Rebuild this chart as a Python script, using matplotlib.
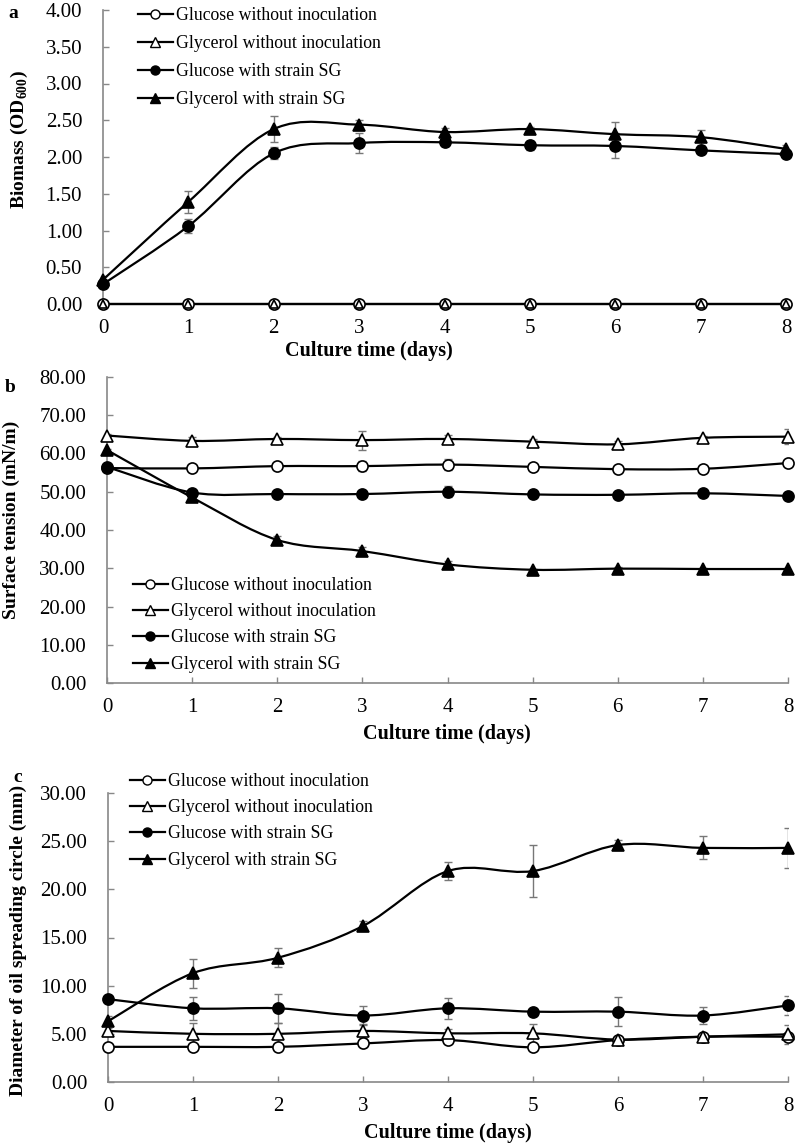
import numpy as np
import matplotlib
matplotlib.use("Agg")
import matplotlib.pyplot as plt
from matplotlib.path import Path
from matplotlib.patches import PathPatch
from matplotlib.lines import Line2D

plt.rcParams['font.family'] = ['Liberation Serif', 'DejaVu Serif']
plt.rcParams['mathtext.fontset'] = 'custom'
plt.rcParams['mathtext.rm'] = 'Liberation Serif'
plt.rcParams['mathtext.bf'] = 'Liberation Serif:bold'

days = [0, 1, 2, 3, 4, 5, 6, 7, 8]
series_names = ['Glucose without inoculation', 'Glycerol without inoculation',
                'Glucose with strain SG', 'Glycerol with strain SG']

# (a) biomass OD600
od_glc_ctrl = [0, 0, 0, 0, 0, 0, 0, 0, 0]
od_gly_ctrl = [0, 0, 0, 0, 0, 0, 0, 0, 0]
od_glc_sg = [0.27, 1.06, 2.05, 2.19, 2.20, 2.16, 2.15, 2.09, 2.04]
od_gly_sg = [0.33, 1.39, 2.38, 2.44, 2.34, 2.38, 2.31, 2.27, 2.11]
od_glc_sg_err = [0.03, 0.10, 0.08, 0.13, 0.05, 0.06, 0.17, 0.03, 0.03]
od_gly_sg_err = [0.05, 0.15, 0.18, 0.07, 0.06, 0.03, 0.16, 0.10, 0.05]

# (b) surface tension mN/m
st_glc_ctrl = [56.2, 56.1, 56.7, 56.7, 57.1, 56.5, 55.9, 56.0, 57.5]
st_gly_ctrl = [64.7, 63.3, 63.8, 63.5, 63.8, 63.1, 62.4, 64.1, 64.4]
st_glc_sg = [56.5, 49.8, 49.4, 49.4, 50.0, 49.3, 49.2, 49.6, 48.9]
st_gly_sg = [60.9, 48.5, 37.4, 34.5, 31.0, 29.6, 29.9, 29.8, 29.8]
st_glc_ctrl_err = [0.3, 0.3, 0.4, 1.3, 1.5, 0.8, 0.2, 0.8, 0.3]
st_gly_ctrl_err = [0.3, 1.0, 0.5, 2.5, 1.0, 0.8, 0.8, 0.5, 2.0]
st_glc_sg_err = [0.3, 0.3, 0.3, 0.3, 1.5, 0.3, 0.3, 0.3, 0.3]
st_gly_sg_err = [0.3, 0.8, 1.0, 1.0, 0.8, 0.3, 0.3, 0.3, 0.3]

# (c) diameter of oil spreading circle mm
oil_glc_ctrl = [3.65, 3.65, 3.65, 4.0, 4.35, 3.6, 4.35, 4.7, 4.7]
oil_gly_ctrl = [5.3, 5.0, 5.0, 5.3, 5.05, 5.05, 4.4, 4.7, 4.95]
oil_glc_sg = [8.6, 7.65, 7.65, 6.9, 7.65, 7.3, 7.3, 6.9, 7.95]
oil_gly_sg = [6.3, 11.3, 12.9, 16.2, 21.9, 21.9, 24.6, 24.3, 24.3]
oil_glc_ctrl_err = [0.2, 0.2, 0.2, 0.2, 0.3, 0.3, 0.2, 0.3, 0.3]
oil_gly_ctrl_err = [0.3, 1.1, 1.1, 0.7, 0.5, 1.0, 0.3, 0.3, 1.0]
oil_glc_sg_err = [0.2, 1.2, 1.5, 1.0, 1.1, 0.3, 1.5, 0.9, 1.0]
oil_gly_sg_err = [0.5, 1.5, 1.0, 0.5, 0.9, 2.7, 0.5, 1.2, 2.1]

markers = [dict(marker='o', mfc='white', mec='black', ms=8),
           dict(marker='^', mfc='white', mec='black', ms=8),
           dict(marker='o', mfc='black', mec='black', ms=8),
           dict(marker='^', mfc='black', mec='black', ms=8.5)]

W, H = 797, 1145


def smooth_path(x, y):
    # Excel-like smoothed line: cubic bezier through every point
    x = np.asarray(x, float)
    y = np.asarray(y, float)
    pts = np.column_stack([x, y])
    n = len(pts)
    verts = [pts[0]]
    codes = [Path.MOVETO]
    for i in range(n - 1):
        p0 = pts[i - 1] if i > 0 else pts[i]
        p1 = pts[i]
        p2 = pts[i + 1]
        p3 = pts[i + 2] if i + 2 < n else pts[i + 1]
        c1 = p1 + (p2 - p0) / 6.0
        c2 = p2 - (p3 - p1) / 6.0
        verts += [c1, c2, p2]
        codes += [Path.CURVE4] * 3
    return Path(verts, codes)


def panel(rect_px, ymax, ystep, data, errs, ylabel, ylabel_xy, letter, letter_xy,
          xlabel_xy, leg_xy, leg_space, small_tri=False):
    l, t, r, b = rect_px
    ax = fig.add_axes([l / W, 1 - b / H, (r - l) / W, (b - t) / H])
    for i, (vals, err) in enumerate(zip(data, errs)):
        if err is not None:
            ax.errorbar(days, vals, yerr=err, fmt='none', ecolor='#777777',
                        elinewidth=1.0, capsize=3, capthick=1.0, zorder=2)
        ax.add_patch(PathPatch(smooth_path(days, vals), facecolor='none',
                               edgecolor='black', lw=1.6, zorder=3,
                               clip_on=False))
    for i, vals in enumerate(data):
        m = dict(markers[i])
        if small_tri and i == 1:
            m['ms'] = 5.5
        ax.plot(days, vals, ls='none', mew=1.2, zorder=4 + i, clip_on=False, **m)
    ax.set_xlim(0, 8)
    ax.set_ylim(0, ymax)
    ax.set_xticks(days)
    ax.set_yticks(np.arange(0, ymax + ystep / 2, ystep))
    ax.yaxis.set_major_formatter(matplotlib.ticker.FormatStrFormatter('%.2f'))
    ax.tick_params(direction='in', length=4, width=1, color='#888888',
                   labelsize=15, labelcolor='black')
    ax.tick_params(axis='y', pad=15)
    ax.tick_params(axis='x', pad=11)
    for s in ['top', 'right']:
        ax.spines[s].set_visible(False)
    for s in ['left', 'bottom']:
        ax.spines[s].set_color('#888888')
        ax.spines[s].set_linewidth(1.2)
    ax.set_facecolor('none')
    fig.text(ylabel_xy[0] / W, 1 - ylabel_xy[1] / H, ylabel, rotation=90,
             ha='center', va='center', fontsize=14, fontweight='bold')
    fig.text(letter_xy[0] / W, 1 - letter_xy[1] / H, letter, ha='center',
             va='center', fontsize=14, fontweight='bold')
    fig.text(xlabel_xy[0] / W, 1 - xlabel_xy[1] / H, 'Culture time (days)',
             ha='center', va='center', fontsize=14.5, fontweight='bold')
    handles = []
    for i in range(4):
        m = dict(markers[i])
        m['ms'] = 6.5
        handles.append(Line2D([], [], color='black', lw=1.6, mew=1.0, **m))
    ax.legend(handles, series_names, loc='upper left',
              bbox_to_anchor=(leg_xy[0] / W, 1 - leg_xy[1] / H),
              bbox_transform=fig.transFigure, frameon=False, fontsize=12.8,
              borderpad=0, borderaxespad=0, handlelength=1.95,
              handletextpad=0.2, labelspacing=leg_space)
    return ax


fig = plt.figure(figsize=(W / 100, H / 100), dpi=100)

panel((103, 10, 786, 304), 4.0, 0.5,
      [od_glc_ctrl, od_gly_ctrl, od_glc_sg, od_gly_sg],
      [None, None, od_glc_sg_err, od_gly_sg_err],
      'Biomass (OD$_{\\mathbf{600}}$)', (19, 140), 'a', (13, 13),
      (369, 351), (138, 7), 0.62, small_tri=True)

panel((107, 377, 788, 683), 80, 10,
      [st_glc_ctrl, st_gly_ctrl, st_glc_sg, st_gly_sg],
      [st_glc_ctrl_err, st_gly_ctrl_err, st_glc_sg_err, st_gly_sg_err],
      'Surface tension (mN/m)', (11, 520), 'b', (10, 388),
      (447, 734), (133, 577), 0.52)

panel((108, 793, 788, 1082), 30, 5,
      [oil_glc_ctrl, oil_gly_ctrl, oil_glc_sg, oil_gly_sg],
      [oil_glc_ctrl_err, oil_gly_ctrl_err, oil_glc_sg_err, oil_gly_sg_err],
      'Diameter of oil spreading circle (mm)', (18, 940), 'c', (18, 777),
      (448, 1133), (130, 773), 0.52)

fig.savefig('out.png', dpi=100)
